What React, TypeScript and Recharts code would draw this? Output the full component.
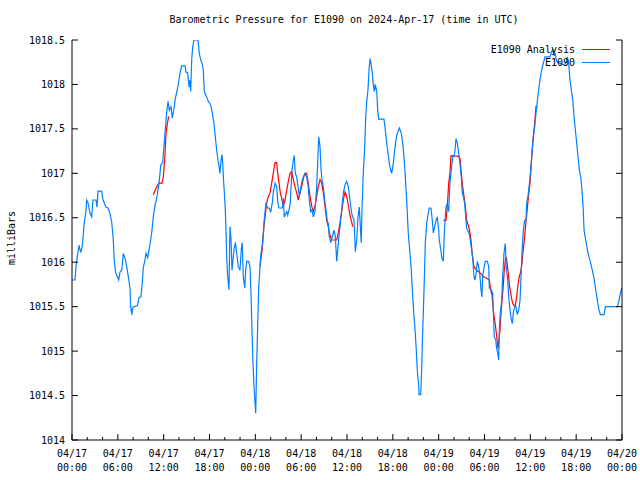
import React from 'react';
import { LineChart, Line, XAxis, YAxis } from 'recharts';

const FONT = '"DejaVu Sans Mono", "Liberation Mono", monospace';

const TITLE = 'Barometric Pressure for E1090 on 2024-Apr-17 (time in UTC)';
const Y_LABEL = 'milliBars';
const SERIES_ANALYSIS = 'E1090 Analysis';
const SERIES_OBS = 'E1090';

// hours since 04/17 00:00 UTC, ticks every 2 h, labels every 6 h
const xTicks = [0, 2, 4, 6, 8, 10, 12, 14, 16, 18, 20, 22, 24, 26, 28, 30, 32, 34, 36, 38, 40, 42, 44, 46, 48, 50, 52, 54, 56, 58, 60, 62, 64, 66, 68, 70, 72];
const dateLabels = ['04/17', '04/17', '04/17', '04/17', '04/18', '04/18', '04/18', '04/18', '04/19', '04/19', '04/19', '04/19', '04/20'];
const timeLabels = ['00:00', '06:00', '12:00', '18:00', '00:00', '06:00', '12:00', '18:00', '00:00', '06:00', '12:00', '18:00', '00:00'];
const yTicks = [1014, 1014.5, 1015, 1015.5, 1016, 1016.5, 1017, 1017.5, 1018, 1018.5];

// [hour, milliBars]
const e1090Obs: [number, number][] = [
  [0, 1015.80], [0.39, 1015.80], [0.52, 1015.95], [0.69, 1016.06], [0.92, 1016.19], [1.14, 1016.11],
  [1.31, 1016.17], [1.44, 1016.27], [1.57, 1016.42], [1.79, 1016.55], [1.92, 1016.70], [2.09, 1016.67],
  [2.36, 1016.55], [2.58, 1016.51], [2.75, 1016.70], [3.14, 1016.70], [3.27, 1016.62], [3.40, 1016.80],
  [3.89, 1016.80], [4.06, 1016.70], [4.45, 1016.62], [4.71, 1016.61], [4.97, 1016.55], [5.20, 1016.45],
  [5.41, 1016.25], [5.54, 1016.01], [5.72, 1015.88], [5.93, 1015.84], [6.11, 1015.80], [6.28, 1015.89],
  [6.51, 1015.91], [6.72, 1016.10], [6.98, 1016.03], [7.16, 1015.95], [7.37, 1015.84], [7.59, 1015.71],
  [7.68, 1015.50], [7.82, 1015.41], [7.95, 1015.49], [8.12, 1015.50], [8.55, 1015.51], [8.77, 1015.60],
  [9.03, 1015.61], [9.20, 1015.77], [9.33, 1015.94], [9.52, 1016.01], [9.69, 1016.10], [9.91, 1016.05],
  [10.12, 1016.16], [10.30, 1016.25], [10.47, 1016.36], [10.64, 1016.51], [10.87, 1016.64], [11.09, 1016.72],
  [11.39, 1016.89], [11.52, 1017.00], [11.61, 1017.09], [11.87, 1017.12], [12.04, 1017.30], [12.21, 1017.49],
  [12.40, 1017.69], [12.57, 1017.81], [12.74, 1017.71], [12.96, 1017.75], [13.13, 1017.62], [13.35, 1017.73],
  [13.52, 1017.84], [13.78, 1017.94], [13.97, 1018.03], [14.14, 1018.13], [14.36, 1018.21], [14.79, 1018.21],
  [14.92, 1018.14], [15.15, 1018.13], [15.32, 1017.97], [15.45, 1018.05], [15.54, 1017.92], [15.67, 1018.28],
  [15.80, 1018.42], [15.97, 1018.50], [16.49, 1018.50], [16.66, 1018.35], [16.85, 1018.28], [17.02, 1018.24],
  [17.19, 1018.16], [17.32, 1017.92], [17.63, 1017.86], [17.84, 1017.81], [18.16, 1017.77], [18.37, 1017.68],
  [18.59, 1017.56], [18.76, 1017.41], [18.94, 1017.26], [19.11, 1017.15], [19.28, 1017.06], [19.37, 1017.00],
  [19.51, 1017.15], [19.64, 1017.21], [19.73, 1017.11], [19.81, 1016.96], [19.94, 1016.79], [20.07, 1016.59],
  [20.16, 1016.36], [20.25, 1016.06], [20.38, 1015.84], [20.55, 1015.69], [20.68, 1016.40], [20.81, 1016.27],
  [20.95, 1015.91], [21.08, 1016.03], [21.21, 1016.14], [21.38, 1016.22], [21.56, 1016.10], [21.77, 1015.95],
  [21.99, 1015.91], [22.16, 1016.14], [22.29, 1016.22], [22.42, 1015.84], [22.61, 1015.71], [22.74, 1015.91],
  [22.87, 1016.01], [23.13, 1016.01], [23.30, 1015.95], [23.43, 1015.65], [23.56, 1015.24], [23.69, 1014.87],
  [23.83, 1014.60], [23.96, 1014.42], [24.05, 1014.30], [24.18, 1014.87], [24.31, 1015.29], [24.44, 1015.71],
  [24.61, 1015.95], [24.74, 1016.10], [24.96, 1016.22], [25.13, 1016.44], [25.30, 1016.59], [25.40, 1016.67],
  [25.57, 1016.61], [25.83, 1016.61], [26.01, 1016.56], [26.22, 1016.67], [26.35, 1016.78], [26.57, 1016.89],
  [26.80, 1016.85], [26.93, 1016.68], [27.10, 1016.61], [27.53, 1016.61], [27.66, 1016.72], [27.79, 1016.51],
  [28.11, 1016.57], [28.24, 1016.53], [28.41, 1016.59], [28.58, 1016.67], [28.76, 1017.00], [28.97, 1017.15],
  [29.10, 1017.20], [29.23, 1017.00], [29.42, 1016.96], [29.62, 1016.83], [29.76, 1016.74], [29.98, 1016.85],
  [30.15, 1016.93], [30.28, 1016.96], [30.50, 1017.00], [30.72, 1016.96], [30.93, 1016.85], [31.06, 1016.70],
  [31.25, 1016.57], [31.42, 1016.59], [31.59, 1016.51], [31.81, 1016.57], [32.03, 1016.85], [32.16, 1017.11],
  [32.30, 1017.41], [32.47, 1017.30], [32.60, 1017.04], [32.73, 1016.93], [32.90, 1016.85], [33.08, 1016.70],
  [33.25, 1016.59], [33.42, 1016.46], [33.55, 1016.44], [33.68, 1016.29], [33.87, 1016.22], [34.08, 1016.29],
  [34.30, 1016.36], [34.47, 1016.29], [34.65, 1016.01], [34.82, 1016.17], [34.99, 1016.33], [35.17, 1016.47],
  [35.34, 1016.62], [35.52, 1016.78], [35.74, 1016.87], [35.96, 1016.91], [36.17, 1016.85], [36.39, 1016.70],
  [36.61, 1016.55], [36.92, 1016.47], [37.09, 1016.12], [37.27, 1016.25], [37.44, 1016.51], [37.61, 1016.62],
  [37.79, 1016.33], [37.87, 1016.22], [37.96, 1016.59], [38.13, 1017.00], [38.32, 1017.30], [38.45, 1017.64],
  [38.58, 1017.81], [38.75, 1017.94], [38.88, 1018.16], [39.01, 1018.29], [39.14, 1018.24], [39.31, 1018.13],
  [39.44, 1018.00], [39.57, 1017.92], [39.70, 1018.00], [39.89, 1017.92], [40.02, 1017.71], [40.15, 1017.61],
  [40.84, 1017.61], [41.01, 1017.49], [41.20, 1017.34], [41.37, 1017.23], [41.54, 1017.11], [41.72, 1017.04],
  [41.85, 1017.00], [42.06, 1017.11], [42.24, 1017.26], [42.41, 1017.38], [42.58, 1017.45], [42.85, 1017.51],
  [43.11, 1017.45], [43.29, 1017.34], [43.46, 1017.19], [43.63, 1016.96], [43.81, 1016.70], [44.02, 1016.33],
  [44.25, 1016.10], [44.42, 1015.91], [44.60, 1015.61], [44.77, 1015.39], [44.94, 1015.20], [45.07, 1015.01],
  [45.20, 1014.79], [45.39, 1014.60], [45.43, 1014.51], [45.65, 1014.51], [45.78, 1014.79], [45.86, 1015.09],
  [45.99, 1015.43], [46.12, 1015.80], [46.25, 1016.21], [46.43, 1016.44], [46.60, 1016.53], [46.77, 1016.61],
  [46.99, 1016.61], [47.17, 1016.47], [47.30, 1016.33], [47.48, 1016.40], [47.65, 1016.47], [47.82, 1016.51],
  [48.00, 1016.36], [48.08, 1016.25], [48.27, 1016.14], [48.44, 1016.04], [48.61, 1016.01], [48.74, 1016.33],
  [48.83, 1016.47], [48.96, 1016.62], [49.13, 1016.66], [49.31, 1016.57], [49.48, 1016.89], [49.65, 1017.04],
  [49.84, 1017.19], [50.01, 1017.19], [50.14, 1017.26], [50.27, 1017.39], [50.44, 1017.34], [50.62, 1017.23],
  [50.79, 1017.11], [50.96, 1016.96], [51.09, 1016.78], [51.22, 1016.74], [51.41, 1016.66], [51.54, 1016.51],
  [51.67, 1016.38], [51.97, 1016.33], [52.10, 1016.27], [52.27, 1016.17], [52.45, 1016.06], [52.62, 1015.84],
  [52.75, 1015.80], [52.89, 1015.86], [53.06, 1016.01], [53.24, 1015.95], [53.41, 1015.84], [53.54, 1015.69],
  [53.67, 1015.61], [53.76, 1015.84], [53.93, 1015.93], [54.10, 1016.01], [54.37, 1016.01], [54.55, 1015.95],
  [54.63, 1015.71], [54.89, 1015.69], [55.07, 1015.65], [55.15, 1015.46], [55.28, 1015.16], [55.46, 1015.13],
  [55.59, 1015.03], [55.73, 1014.98], [55.86, 1014.90], [55.94, 1015.24], [56.07, 1015.43], [56.25, 1015.57],
  [56.38, 1015.84], [56.55, 1016.10], [56.72, 1016.21], [56.85, 1015.95], [57.04, 1015.80], [57.17, 1015.61],
  [57.34, 1015.46], [57.47, 1015.37], [57.64, 1015.31], [57.77, 1015.43], [57.95, 1015.50], [58.12, 1015.50],
  [58.29, 1015.41], [58.47, 1015.46], [58.65, 1015.57], [58.78, 1015.84], [58.91, 1016.10], [59.08, 1016.36],
  [59.26, 1016.47], [59.43, 1016.47], [59.52, 1016.66], [59.69, 1016.74], [59.86, 1016.87], [60.05, 1017.04],
  [60.22, 1017.23], [60.39, 1017.41], [60.57, 1017.52], [60.74, 1017.68], [60.91, 1017.81], [61.09, 1017.94],
  [61.26, 1018.05], [61.43, 1018.14], [61.70, 1018.24], [61.92, 1018.31], [62.57, 1018.31], [62.80, 1018.37],
  [62.93, 1018.39], [63.10, 1018.33], [63.23, 1018.35], [63.45, 1018.26], [63.79, 1018.24], [64.41, 1018.22],
  [64.63, 1018.24], [64.84, 1018.31], [65.02, 1018.24], [65.19, 1018.05], [65.36, 1017.94], [65.55, 1017.83],
  [65.72, 1017.64], [65.89, 1017.49], [66.07, 1017.34], [66.24, 1017.19], [66.41, 1017.04], [66.59, 1016.96],
  [66.76, 1016.81], [66.93, 1016.59], [67.03, 1016.36], [67.25, 1016.25], [67.46, 1016.14], [67.68, 1016.06],
  [67.90, 1015.99], [68.11, 1015.91], [68.33, 1015.82], [68.56, 1015.69], [68.77, 1015.57], [68.99, 1015.46],
  [69.16, 1015.41], [69.65, 1015.41], [69.82, 1015.50], [71.39, 1015.50], [71.61, 1015.57], [71.83, 1015.67],
  [72.00, 1015.71],
];

const analysisRun1: [number, number][] = [
  [10.64, 1016.76], [11.09, 1016.85], [11.35, 1016.89], [11.78, 1016.89], [11.95, 1016.96], [12.14, 1017.15],
  [12.31, 1017.45], [12.48, 1017.56], [12.66, 1017.64],
];

const analysisRun2: [number, number][] = [
  [24.61, 1015.95], [24.83, 1016.10], [24.96, 1016.22], [25.17, 1016.44], [25.49, 1016.67], [25.70, 1016.74],
  [25.92, 1016.78], [26.14, 1016.89], [26.35, 1017.00], [26.57, 1017.12], [26.80, 1017.12], [26.93, 1017.00],
  [27.10, 1016.89], [27.27, 1016.78], [27.45, 1016.72], [27.66, 1016.63], [27.88, 1016.70], [28.11, 1016.81],
  [28.32, 1016.91], [28.54, 1017.00], [28.76, 1017.02], [28.97, 1016.93], [29.19, 1016.85], [29.42, 1016.78],
  [29.62, 1016.70], [29.85, 1016.78], [30.07, 1016.85], [30.28, 1016.94], [30.50, 1017.00], [30.72, 1017.00],
  [30.93, 1016.89], [31.16, 1016.74], [31.38, 1016.63], [31.59, 1016.57], [31.81, 1016.63], [32.03, 1016.74],
  [32.24, 1016.85], [32.47, 1016.93], [32.69, 1016.89], [32.90, 1016.78], [33.12, 1016.63], [33.34, 1016.47],
  [33.55, 1016.40], [33.68, 1016.33], [33.99, 1016.25], [34.65, 1016.25], [34.86, 1016.33], [35.08, 1016.44],
  [35.30, 1016.57], [35.52, 1016.70], [35.74, 1016.79], [35.96, 1016.74], [36.17, 1016.64], [36.39, 1016.53],
  [36.61, 1016.45], [36.75, 1016.40],
];

const analysisRun3: [number, number][] = [
  [48.61, 1016.47], [48.96, 1016.47], [49.13, 1016.62], [49.31, 1016.89], [49.48, 1017.00], [49.61, 1017.20],
  [50.57, 1017.19], [50.79, 1017.17], [50.96, 1017.00], [51.14, 1016.85], [51.32, 1016.74], [51.49, 1016.62],
  [51.67, 1016.47], [51.93, 1016.40], [52.10, 1016.33], [52.23, 1016.25], [52.40, 1016.08], [52.62, 1015.95],
  [52.98, 1015.91], [53.41, 1015.88], [53.84, 1015.84], [54.29, 1015.82], [54.63, 1015.80], [54.81, 1015.69],
  [54.98, 1015.63], [55.15, 1015.46], [55.33, 1015.35], [55.50, 1015.24], [55.64, 1015.13], [55.77, 1015.03],
  [55.86, 1015.09], [56.03, 1015.24], [56.16, 1015.43], [56.29, 1015.57], [56.42, 1015.69], [56.59, 1015.91],
  [56.78, 1016.06], [56.91, 1016.03], [57.07, 1015.91], [57.24, 1015.76], [57.43, 1015.65], [57.60, 1015.57],
  [57.77, 1015.52], [58.03, 1015.51], [58.21, 1015.61], [58.38, 1015.74], [58.56, 1015.84], [58.74, 1015.89],
  [58.91, 1015.99], [59.00, 1016.08], [59.17, 1016.21], [59.34, 1016.38], [59.52, 1016.53], [59.73, 1016.72],
  [59.96, 1016.89], [60.13, 1017.11], [60.31, 1017.34], [60.48, 1017.49], [60.61, 1017.60], [60.74, 1017.75],
  [60.91, 1017.75],
];

const RED = '#ff0000';
const BLUE = '#0080ff';

const toRows = (arr: [number, number][]) => arr.map(([h, v]) => ({ h, v }));

const BottomTick = (props: any) => {
  const { x, y, payload } = props;
  const h = payload.value as number;
  const major = h % 6 === 0;
  const idx = h / 6;
  return (
    <g>
      <line x1={x} y1={y} x2={x} y2={y - (major ? 6 : 3)} stroke="#000" strokeWidth={1} />
      {major && (
        <text x={x} y={y + 17} textAnchor="middle" fontFamily={FONT} fontSize={10} fill="#000">
          {dateLabels[idx]}
        </text>
      )}
      {major && (
        <text x={x} y={y + 31} textAnchor="middle" fontFamily={FONT} fontSize={10} fill="#000">
          {timeLabels[idx]}
        </text>
      )}
    </g>
  );
};

const TopTick = (props: any) => {
  const { x, y, payload } = props;
  const h = payload.value as number;
  const major = h % 6 === 0;
  return <line x1={x} y1={y} x2={x} y2={y + (major ? 6 : 3)} stroke="#000" strokeWidth={1} />;
};

const LeftTick = (props: any) => {
  const { x, y, payload } = props;
  return (
    <g>
      <line x1={x} y1={y} x2={x + 6} y2={y} stroke="#000" strokeWidth={1} />
      <text x={x - 7} y={y + 3.5} textAnchor="end" fontFamily={FONT} fontSize={10} fill="#000">
        {String(payload.value)}
      </text>
    </g>
  );
};

const RightTick = (props: any) => {
  const { x, y } = props;
  return <line x1={x} y1={y} x2={x - 6} y2={y} stroke="#000" strokeWidth={1} />;
};

export default function App() {
  const obsRows = toRows(e1090Obs);
  const runs = [analysisRun1, analysisRun2, analysisRun3].map(toRows);
  return (
    <div style={{ position: 'absolute', left: 0, top: 0, width: 640, height: 480, background: '#fff' }}>
      <LineChart width={640} height={480} margin={{ top: 40, right: 0, bottom: 0, left: 0 }}>
        <XAxis
          xAxisId="bottom"
          dataKey="h"
          type="number"
          domain={[0, 72]}
          ticks={xTicks}
          interval={0}
          allowDataOverflow
          height={40}
          tickSize={0}
          tickMargin={0}
          tickLine={false}
          axisLine={{ stroke: '#000', strokeWidth: 1 }}
          tick={<BottomTick />}
        />
        <XAxis
          xAxisId="top"
          orientation="top"
          dataKey="h"
          type="number"
          domain={[0, 72]}
          ticks={xTicks}
          interval={0}
          allowDataOverflow
          height={0}
          tickSize={0}
          tickMargin={0}
          tickLine={false}
          axisLine={{ stroke: '#000', strokeWidth: 1 }}
          tick={<TopTick />}
        />
        <YAxis
          yAxisId="left"
          type="number"
          domain={[1014, 1018.5]}
          ticks={yTicks}
          interval={0}
          allowDataOverflow
          width={72}
          tickSize={0}
          tickMargin={0}
          tickLine={false}
          axisLine={{ stroke: '#000', strokeWidth: 1 }}
          tick={<LeftTick />}
        />
        <YAxis
          yAxisId="right"
          orientation="right"
          type="number"
          domain={[1014, 1018.5]}
          ticks={yTicks}
          interval={0}
          allowDataOverflow
          width={18}
          tickSize={0}
          tickMargin={0}
          tickLine={false}
          axisLine={{ stroke: '#000', strokeWidth: 1 }}
          tick={<RightTick />}
        />
        {runs.map((rows, i) => (
          <Line
            key={`a${i}`}
            xAxisId="bottom"
            yAxisId="left"
            data={rows}
            dataKey="v"
            type="linear"
            stroke={RED}
            strokeWidth={1.2}
            dot={false}
            activeDot={false}
            isAnimationActive={false}
          />
        ))}
        <Line
          xAxisId="bottom"
          yAxisId="left"
          data={obsRows}
          dataKey="v"
          type="linear"
          stroke={BLUE}
          strokeWidth={1.2}
          dot={false}
          activeDot={false}
          isAnimationActive={false}
        />
      </LineChart>
      <svg
        width={640}
        height={480}
        style={{ position: 'absolute', left: 0, top: 0, pointerEvents: 'none' }}
      >
        <text x={344} y={23} textAnchor="middle" fontFamily={FONT} fontSize={10} fill="#000">
          {TITLE}
        </text>
        <text
          x={15}
          y={238}
          textAnchor="middle"
          fontFamily={FONT}
          fontSize={10}
          fill="#000"
          transform="rotate(-90 15 238)"
        >
          {Y_LABEL}
        </text>
        <text x={575} y={53} textAnchor="end" fontFamily={FONT} fontSize={10} fill="#000">
          {SERIES_ANALYSIS}
        </text>
        <line x1={582} y1={49.5} x2={610} y2={49.5} stroke={RED} strokeWidth={1} />
        <text x={575} y={66} textAnchor="end" fontFamily={FONT} fontSize={10} fill="#000">
          {SERIES_OBS}
        </text>
        <line x1={582} y1={62.5} x2={610} y2={62.5} stroke={BLUE} strokeWidth={1} />
      </svg>
    </div>
  );
}
